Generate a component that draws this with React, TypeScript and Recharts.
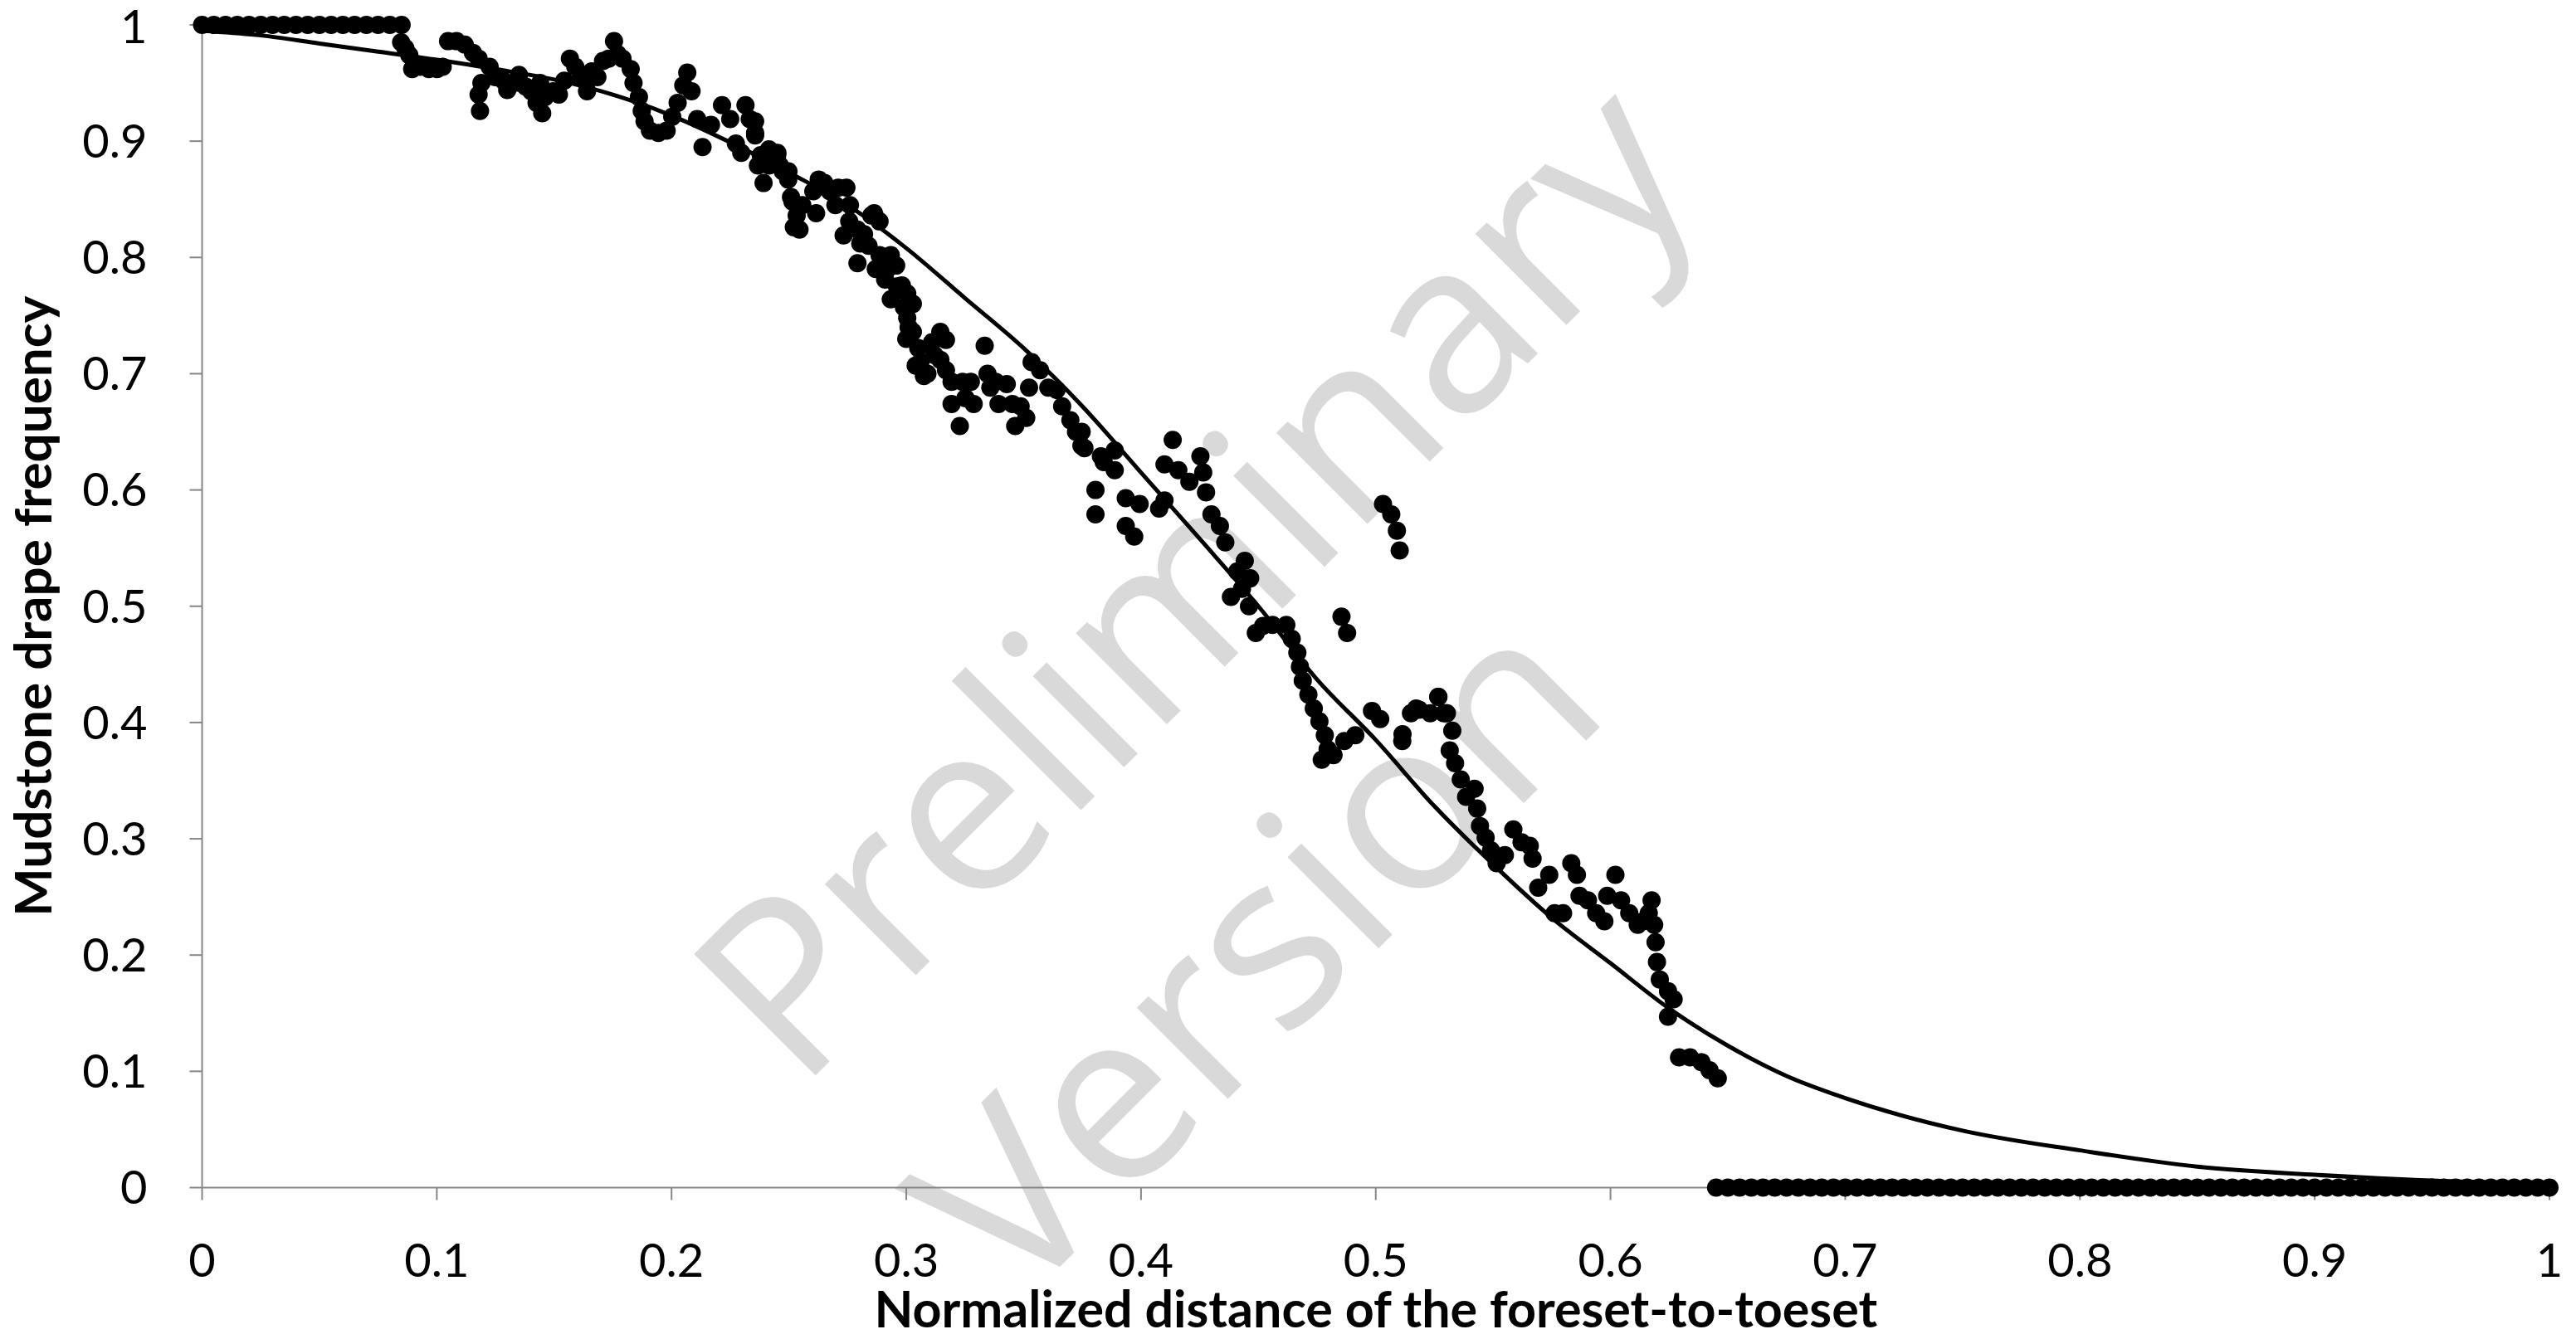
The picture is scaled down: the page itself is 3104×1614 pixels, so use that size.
import React from 'react';
import { ScatterChart, Scatter, XAxis, YAxis } from 'recharts';

// points sitting on the top line (frequency = 1)
const plateauPoints: [number, number][] = [
  [0, 1], [0.005, 1], [0.01, 1], [0.015, 1], [0.02, 1], [0.025, 1], [0.03, 1], [0.035, 1], [0.04, 1],
  [0.045, 1], [0.05, 1], [0.055, 1], [0.06, 1], [0.065, 1], [0.07, 1], [0.075, 1], [0.08, 1], [0.085, 1],
];

// 0.085 - 0.25
const upperPoints: [number, number][] = [
  [0.0848, 0.985], [0.0866, 0.98], [0.0883, 0.974], [0.0895, 0.962], [0.0931, 0.964], [0.0966, 0.962],
  [0.1001, 0.962], [0.1025, 0.964], [0.1048, 0.986], [0.1084, 0.986], [0.1119, 0.983], [0.1154, 0.976],
  [0.1178, 0.971], [0.119, 0.95], [0.1178, 0.94], [0.1184, 0.926], [0.1225, 0.964], [0.1249, 0.955],
  [0.1284, 0.952], [0.13, 0.944], [0.1331, 0.95], [0.135, 0.957], [0.1378, 0.947], [0.1402, 0.943],
  [0.1425, 0.933], [0.1449, 0.924], [0.144, 0.95], [0.1461, 0.938], [0.1496, 0.943], [0.152, 0.94],
  [0.1543, 0.952], [0.1567, 0.971], [0.159, 0.964], [0.1614, 0.955], [0.1637, 0.95], [0.164, 0.943],
  [0.166, 0.96], [0.1684, 0.955], [0.1708, 0.969], [0.1732, 0.971], [0.1755, 0.986], [0.177, 0.975],
  [0.1791, 0.971], [0.1826, 0.962], [0.1838, 0.95], [0.1861, 0.938], [0.1873, 0.926], [0.1885, 0.917],
  [0.1908, 0.909], [0.1944, 0.907], [0.1979, 0.909], [0.2003, 0.921], [0.2026, 0.933], [0.205, 0.948],
  [0.2067, 0.959], [0.2085, 0.943], [0.2109, 0.919], [0.2132, 0.895], [0.2168, 0.914], [0.2215, 0.931],
  [0.225, 0.919], [0.2274, 0.898], [0.2297, 0.89], [0.2315, 0.931], [0.2333, 0.919], [0.2356, 0.907],
  [0.238, 0.888], [0.2415, 0.879], [0.245, 0.888], [0.2474, 0.874], [0.2497, 0.867], [0.2515, 0.848],
  [0.2521, 0.826],
];

// 0.23 - 0.39
const middlePoints: [number, number][] = [
  [0.2356, 0.917], [0.2356, 0.905], [0.2415, 0.893], [0.2451, 0.89], [0.2368, 0.879], [0.2392, 0.864],
  [0.2462, 0.879], [0.2498, 0.874], [0.2509, 0.852], [0.2533, 0.836], [0.2545, 0.824], [0.2557, 0.845],
  [0.2604, 0.857], [0.2627, 0.867], [0.2651, 0.864], [0.2674, 0.857], [0.271, 0.86], [0.2745, 0.86],
  [0.2698, 0.845], [0.2616, 0.838], [0.2757, 0.831], [0.276, 0.845], [0.2733, 0.819], [0.2792, 0.824],
  [0.282, 0.82], [0.2851, 0.836], [0.2863, 0.838], [0.2886, 0.831], [0.2804, 0.812], [0.2839, 0.81],
  [0.2792, 0.795], [0.287, 0.79], [0.2886, 0.802], [0.292, 0.79], [0.2934, 0.802], [0.2957, 0.793],
  [0.291, 0.781], [0.296, 0.775], [0.2981, 0.776], [0.299, 0.757], [0.3004, 0.769], [0.2934, 0.764],
  [0.3028, 0.76], [0.3004, 0.748], [0.301, 0.74], [0.3028, 0.736], [0.3, 0.73], [0.3051, 0.722],
  [0.306, 0.71], [0.309, 0.7], [0.312, 0.716], [0.311, 0.727], [0.3145, 0.736], [0.3169, 0.729],
  [0.304, 0.707], [0.3075, 0.698], [0.3145, 0.712], [0.3169, 0.703], [0.3193, 0.693], [0.3193, 0.674],
  [0.3252, 0.679], [0.3228, 0.655], [0.3275, 0.693], [0.324, 0.693], [0.3287, 0.674], [0.3334, 0.724],
  [0.3346, 0.7], [0.3358, 0.688], [0.3381, 0.693], [0.3393, 0.674], [0.3452, 0.674], [0.3428, 0.691],
  [0.3464, 0.655], [0.3487, 0.672], [0.3511, 0.662], [0.3523, 0.688], [0.3534, 0.71], [0.357, 0.703],
  [0.3605, 0.688], [0.364, 0.686], [0.3664, 0.672], [0.3699, 0.66], [0.3723, 0.65], [0.3746, 0.638],
  [0.3829, 0.629], [0.3888, 0.634],
];

// 0.37 - 0.53
const lowerMiddlePoints: [number, number][] = [
  [0.3747, 0.65], [0.3759, 0.636], [0.3806, 0.6], [0.3806, 0.579], [0.3841, 0.624], [0.3888, 0.617],
  [0.3935, 0.593], [0.3935, 0.569], [0.3971, 0.56], [0.3994, 0.588], [0.4077, 0.584], [0.41, 0.591],
  [0.4135, 0.643], [0.41, 0.622], [0.4159, 0.617], [0.4206, 0.607], [0.4253, 0.629], [0.4265, 0.615],
  [0.4277, 0.598], [0.43, 0.579], [0.4336, 0.569], [0.4359, 0.555], [0.4442, 0.539], [0.4465, 0.524],
  [0.441, 0.53], [0.443, 0.515], [0.446, 0.5], [0.452, 0.483],
  [0.4383, 0.508], [0.4489, 0.477], [0.456, 0.484], [0.4619, 0.484], [0.4642, 0.472], [0.4666, 0.46],
  [0.4677, 0.448], [0.4689, 0.436], [0.4713, 0.424], [0.4736, 0.412], [0.476, 0.401], [0.4783, 0.389],
  [0.4795, 0.377], [0.477, 0.368], [0.482, 0.372], [0.4866, 0.384], [0.4913, 0.389], [0.4984, 0.41],
  [0.5019, 0.403], [0.5113, 0.384], [0.5172, 0.412], [0.5266, 0.422], [0.529, 0.408],
  [0.5031, 0.588], [0.5066, 0.579], [0.509, 0.565], [0.5102, 0.548],
  [0.4854, 0.491], [0.4878, 0.477],
];

// 0.51 - 0.65
const lowerPoints: [number, number][] = [
  [0.5114, 0.39], [0.515, 0.408], [0.5185, 0.411], [0.5232, 0.408], [0.5267, 0.422], [0.5303, 0.408],
  [0.5326, 0.393], [0.5315, 0.376], [0.5338, 0.365], [0.5362, 0.351], [0.5385, 0.336], [0.5421, 0.343],
  [0.5432, 0.326], [0.5444, 0.311], [0.5468, 0.301], [0.5491, 0.29], [0.5515, 0.279], [0.555, 0.286],
  [0.5586, 0.308], [0.5621, 0.297], [0.5656, 0.294], [0.5668, 0.283], [0.5692, 0.258], [0.5739, 0.269],
  [0.5762, 0.236], [0.5798, 0.236], [0.5833, 0.279], [0.5857, 0.269], [0.5868, 0.251], [0.5904, 0.247],
  [0.5939, 0.236], [0.5974, 0.229], [0.5986, 0.251], [0.6021, 0.269], [0.6045, 0.247], [0.608, 0.236],
  [0.6116, 0.226], [0.6139, 0.229], [0.6163, 0.236], [0.6175, 0.247], [0.6186, 0.226], [0.6192, 0.211],
  [0.6198, 0.194], [0.621, 0.179], [0.6245, 0.169], [0.6269, 0.162], [0.6245, 0.147], [0.6292, 0.112],
  [0.6339, 0.112], [0.6387, 0.108], [0.6422, 0.101], [0.6457, 0.094],
];

// points lying on the bottom line (frequency = 0)
const zeroPoints: [number, number][] = [
  [0.645, 0], [0.65, 0], [0.655, 0], [0.66, 0], [0.665, 0], [0.67, 0], [0.675, 0], [0.68, 0], [0.685, 0],
  [0.69, 0], [0.695, 0], [0.7, 0], [0.705, 0], [0.71, 0], [0.715, 0], [0.72, 0], [0.725, 0], [0.73, 0],
  [0.735, 0], [0.74, 0], [0.745, 0], [0.75, 0], [0.755, 0], [0.76, 0], [0.765, 0], [0.77, 0], [0.775, 0],
  [0.78, 0], [0.785, 0], [0.79, 0], [0.795, 0], [0.8, 0], [0.805, 0], [0.81, 0], [0.815, 0], [0.82, 0],
  [0.825, 0], [0.83, 0], [0.835, 0], [0.84, 0], [0.845, 0], [0.85, 0], [0.855, 0], [0.86, 0], [0.865, 0],
  [0.87, 0], [0.875, 0], [0.88, 0], [0.885, 0], [0.89, 0], [0.895, 0], [0.9, 0], [0.905, 0], [0.91, 0],
  [0.915, 0], [0.92, 0], [0.925, 0], [0.93, 0], [0.935, 0], [0.94, 0], [0.945, 0], [0.95, 0], [0.955, 0],
  [0.96, 0], [0.965, 0], [0.97, 0], [0.975, 0], [0.98, 0], [0.985, 0], [0.99, 0], [0.995, 0], [1, 0],
];

// fitted curve
const fitX = [0, 0.025, 0.05, 0.075, 0.1, 0.125, 0.15, 0.175, 0.2, 0.225, 0.25, 0.275, 0.3, 0.325, 0.35, 0.375,
  0.4, 0.425, 0.45, 0.475, 0.5, 0.525, 0.55, 0.575, 0.6, 0.625, 0.65, 0.675, 0.7, 0.75, 0.8, 0.85, 0.9, 0.95, 1];
const fitY = [0.995, 0.991, 0.984, 0.977, 0.97, 0.962, 0.953, 0.94, 0.922, 0.899, 0.873, 0.845, 0.808, 0.765,
  0.722, 0.672, 0.615, 0.558, 0.5, 0.437, 0.385, 0.328, 0.278, 0.232, 0.193, 0.154, 0.122, 0.096, 0.077,
  0.049, 0.032, 0.018, 0.011, 0.006, 0.0035];

const xTicks = [0, 0.1, 0.2, 0.3, 0.4, 0.5, 0.6, 0.7, 0.8, 0.9, 1];
const yTicks = [0, 0.1, 0.2, 0.3, 0.4, 0.5, 0.6, 0.7, 0.8, 0.9, 1];

const observed = [...plateauPoints, ...upperPoints, ...middlePoints, ...lowerMiddlePoints, ...lowerPoints, ...zeroPoints]
  .map(([x, y]) => ({ x, y }));
const fitted = fitX.map((x, i) => ({ x, y: fitY[i] }));

const W = 3104;
const H = 1614;
const axisColor = '#868686';

const Dot = (props: any) => <circle cx={props.cx} cy={props.cy} r={11} fill="#000" />;

export default function App() {
  return (
    <div style={{ position: 'relative', width: W, height: H, background: '#fff', fontFamily: 'Lato' }}>
      <style>{'body{margin:0}'}</style>
      {/* watermark sits behind the chart */}
      <svg width={W} height={H} style={{ position: 'absolute', left: 0, top: 0 }}>
        <text x={1430} y={690} transform="rotate(-45 1430 690)" textAnchor="middle" dominantBaseline="central"
          fontFamily="Open Sans" fontSize={290} fill="#d9d9d9">Preliminary</text>
        <text x={1505} y={1140} transform="rotate(-45 1505 1140)" textAnchor="middle" dominantBaseline="central"
          fontFamily="Open Sans" fontSize={290} fill="#d9d9d9">Version</text>
      </svg>
      <div style={{ position: 'absolute', left: 0, top: 0 }}>
        <ScatterChart width={W} height={H} margin={{ top: 30, right: 32, bottom: 0, left: 0 }}>
          <XAxis
            type="number"
            dataKey="x"
            domain={[0, 1]}
            ticks={xTicks}
            tickFormatter={(v) => String(v)}
            height={182.5}
            tickSize={15}
            tickMargin={53}
            axisLine={{ stroke: axisColor, strokeWidth: 2 }}
            tickLine={{ stroke: axisColor, strokeWidth: 2 }}
            tick={{ fontSize: 56, fill: '#000' }}
            label={{ value: 'Normalized distance of the foreset-to-toeset', position: 'insideBottom', offset: 14,
              style: { fontSize: 61, fontWeight: 'bold', fill: '#000' } }}
          />
          <YAxis
            type="number"
            dataKey="y"
            domain={[0, 1]}
            ticks={yTicks}
            tickFormatter={(v) => String(v)}
            width={243.5}
            tickSize={15}
            tickMargin={51}
            axisLine={{ stroke: axisColor, strokeWidth: 2 }}
            tickLine={{ stroke: axisColor, strokeWidth: 2 }}
            tick={{ fontSize: 56, fill: '#000' }}
            label={{ value: 'Mudstone drape frequency', angle: -90, position: 'insideLeft', offset: 40,
              style: { fontSize: 62, fontWeight: 'bold', fill: '#000', textAnchor: 'middle' } }}
          />
          <Scatter data={observed} shape={Dot} isAnimationActive={false} />
          <Scatter
            data={fitted}
            line={{ stroke: '#000', strokeWidth: 5 }}
            lineJointType="monotoneX"
            shape={() => <g />}
            isAnimationActive={false}
          />
        </ScatterChart>
      </div>
    </div>
  );
}
